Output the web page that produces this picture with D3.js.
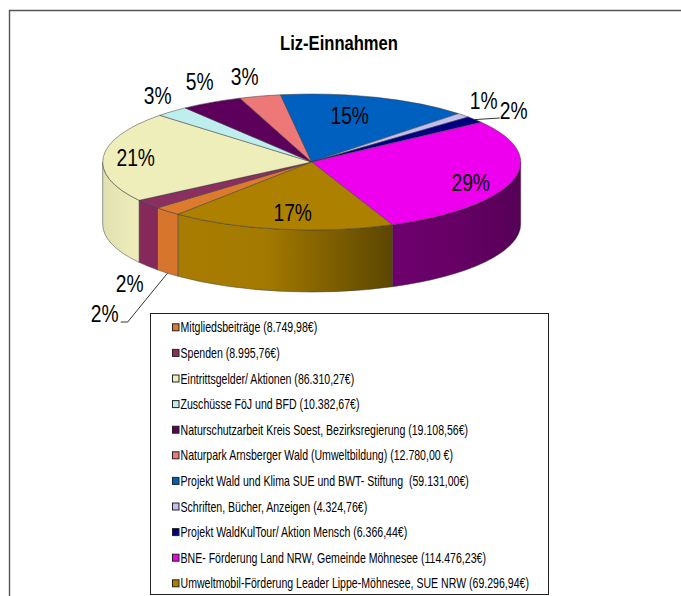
<!DOCTYPE html>
<html lang="de">
<head>
    <meta charset="UTF-8">
    <title>Liz-Einnahmen</title>
    <script src="https://d3js.org/d3.v7.min.js"></script>
    <style>
        html, body { margin: 0; padding: 0; background: #fff; overflow: hidden; }
        svg { display: block; }
        text { font-family: "Liberation Sans", Arial, sans-serif; fill: #000; }
    </style>
</head>
<body>
    <svg id="chart" width="681" height="596"></svg>
    <script>
        const categories = [
            'Mitgliedsbeiträge (8.749,98€)',
            'Spenden (8.995,76€)',
            'Eintrittsgelder/ Aktionen (86.310,27€)',
            'Zuschüsse FöJ und BFD (10.382,67€)',
            'Naturschutzarbeit Kreis Soest, Bezirksregierung (19.108,56€)',
            'Naturpark Arnsberger Wald (Umweltbildung) (12.780,00 €)',
            'Projekt Wald und Klima SUE und BWT- Stiftung  (59.131,00€)',
            'Schriften, Bücher, Anzeigen (4.324,76€)',
            'Projekt WaldKulTour/ Aktion Mensch (6.366,44€)',
            'BNE- Förderung Land NRW, Gemeinde Möhnesee (114.476,23€)',
            'Umweltmobil-Förderung Leader Lippe-Möhnesee, SUE NRW (69.296,94€)'
        ];
        const values = [8749.98, 8995.76, 86310.27, 10382.67, 19108.56, 12780, 59131, 4324.76, 6366.44, 114476.23, 69296.94];
        const percentLabels = ['2%', '2%', '21%', '3%', '5%', '3%', '15%', '1%', '2%', '29%', '17%'];

        // Colours
        const topColors = ['#dc7a2e', '#8b2f60', '#eeeebb', '#bfeeee', '#5c005c', '#ee7777', '#0060c0', '#c0c0ee', '#000080', '#ee00ee', '#ae8000'];
        const sideColors = ['#d8752c', '#85295b', 'url(#sideCream)', '#bfeeee', '#5c005c', '#ee7777', '#0060c0', '#c0c0ee', '#000080', 'url(#sidePurple)', 'url(#sideBrown)'];

        // Label positions relative to the pie centre
        const labelOffsets = [[-207, 160], [-182, 130], [-176, 4], [-154, -58], [-112, -72], [-67, -77], [38, -38], [172, -53], [202, -43], [159, 29], [-19, 59]];

        const cx = 311.7, cy = 162, rx = 209, ry = 68, depth = 62;
        const startAngle = 219.7 * Math.PI / 180;

        const svg = d3.select('#chart');
        const defs = svg.append('defs');

        function addGradient(id, stops) {
            const g = defs.append('linearGradient').attr('id', id);
            stops.forEach(s => g.append('stop').attr('offset', s[0]).attr('stop-color', s[1]));
        }
        addGradient('sideCream', [[0, '#e2e0b0'], [1, '#eeeebb']]);
        addGradient('sidePurple', [[0, '#6e006e'], [0.5, '#660066'], [1, '#560056']]);
        addGradient('sideBrown', [[0, '#a87c00'], [0.4, '#a47a00'], [1, '#5c4600']]);

        // Frame of the chart area
        svg.append('path')
            .attr('d', 'M9.5,596V10.5H681')
            .attr('fill', 'none')
            .attr('stroke', '#555')
            .attr('stroke-width', 1.4);

        // Title
        svg.append('text')
            .attr('transform', 'translate(339,50) scale(0.83,1)')
            .attr('text-anchor', 'middle')
            .attr('font-size', 20)
            .attr('font-weight', 'bold')
            .text('Liz-Einnahmen');

        const pie = d3.pie().sort(null).startAngle(startAngle).endAngle(startAngle + 2 * Math.PI);
        const slices = pie(values);

        const px = a => cx + rx * Math.sin(a);
        const py = a => cy - ry * Math.cos(a);

        // Outer wall: only the part of a slice facing the viewer (90 to 270 degrees)
        function wallPath(d) {
            let a0 = d.startAngle, a1 = d.endAngle;
            const full = 2 * Math.PI;
            if (a0 >= full) { a0 -= full; a1 -= full; }
            a0 = Math.max(a0, Math.PI / 2);
            a1 = Math.min(a1, 3 * Math.PI / 2);
            if (a1 <= a0) return null;
            return `M${px(a0)},${py(a0)}A${rx},${ry} 0 0 1 ${px(a1)},${py(a1)}` +
                `L${px(a1)},${py(a1) + depth}A${rx},${ry} 0 0 0 ${px(a0)},${py(a0) + depth}Z`;
        }

        svg.append('g').selectAll('path')
            .data(slices.filter(d => wallPath(d)))
            .join('path')
            .attr('d', wallPath)
            .attr('fill', d => sideColors[d.index])
            .attr('stroke', '#3a3a3a')
            .attr('stroke-width', 0.5);

        // Top face: a flat d3 arc squashed into an ellipse
        const arc = d3.arc().innerRadius(0).outerRadius(rx);
        svg.append('g')
            .attr('transform', `translate(${cx},${cy}) scale(1,${ry / rx})`)
            .selectAll('path')
            .data(slices)
            .join('path')
            .attr('d', arc)
            .attr('fill', d => topColors[d.index])
            .attr('stroke', '#3a3a3a')
            .attr('stroke-width', 0.5)
            .attr('vector-effect', 'non-scaling-stroke');

        // Leader lines of the two small slices
        const leader = d3.line();
        const leaderFrom = (i, f) => {
            const a = (slices[i].startAngle + slices[i].endAngle) / 2;
            return [px(a), py(a) + depth * f];
        };
        svg.append('path')
            .attr('d', leader([leaderFrom(0, 1), [cx + labelOffsets[0][0] + 23, cy + labelOffsets[0][1]], [cx + labelOffsets[0][0] + 16, cy + labelOffsets[0][1]]]))
            .attr('fill', 'none').attr('stroke', '#000').attr('stroke-width', 0.8);
        svg.append('path')
            .attr('d', leader([leaderFrom(8, 0), [cx + labelOffsets[8][0] - 14, cy + labelOffsets[8][1] - 1]]))
            .attr('fill', 'none').attr('stroke', '#000').attr('stroke-width', 0.8);

        // Percent labels, condensed like the stretched original
        svg.append('g').selectAll('text')
            .data(percentLabels)
            .join('text')
            .attr('transform', (d, i) => `translate(${cx + labelOffsets[i][0]},${cy + labelOffsets[i][1]}) scale(0.82,1)`)
            .attr('text-anchor', 'middle')
            .attr('font-size', 23.5)
            .text(d => d);

        // Legend
        const legend = svg.append('g');
        legend.append('rect')
            .attr('x', 150.5).attr('y', 313.5)
            .attr('width', 398).attr('height', 281)
            .attr('fill', '#fff')
            .attr('stroke', '#222')
            .attr('stroke-width', 1);

        const rowY = d3.scalePoint().domain(d3.range(categories.length)).range([327.3, 583.3]);
        const rows = legend.selectAll('g.row')
            .data(categories)
            .join('g')
            .attr('class', 'row')
            .attr('transform', (d, i) => `translate(172,${rowY(i)})`);
        rows.append('rect')
            .attr('x', 0.5).attr('y', -3.5)
            .attr('width', 6.5).attr('height', 7)
            .attr('fill', (d, i) => topColors[i])
            .attr('stroke', '#222')
            .attr('stroke-width', 1);
        rows.append('text')
            .attr('transform', 'translate(8.5,5) scale(0.755,1)')
            .attr('font-size', 14)
            .style('white-space', 'pre')
            .text(d => d);
    </script>
</body>
</html>
